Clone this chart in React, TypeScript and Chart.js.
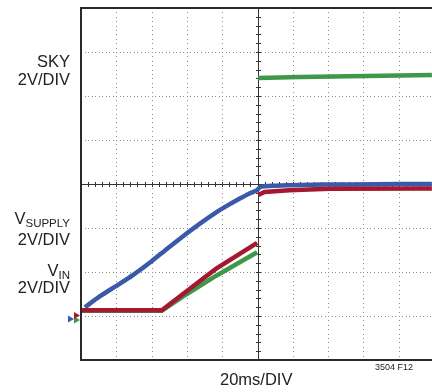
import React, { useEffect, useRef } from "react";
import { Chart, registerables } from "chart.js";

Chart.register(...registerables);

// Scope screen in divisions: 10 horizontal (20ms/DIV), 8 vertical
const X_MAX = 9.943; // right edge of the visible screen (in divisions)
const Y_MAX = 8;

// VSUPPLY (blue)
const supplyX = [0.11, 0.54, 0.99, 1.47, 2.01, 2.44, 3.0, 3.37, 3.82, 4.19, 4.5, 4.76, 4.99, 5.07, 5.5, 6.2, 7.62, 9.04, 9.94];
const supplyY = [1.2, 1.45, 1.68, 1.93, 2.25, 2.53, 2.88, 3.1, 3.35, 3.53, 3.67, 3.78, 3.86, 3.93, 3.96, 3.98, 3.99, 4.0, 4.0];

// VIN (red) — null marks the un-drawn jump of the captured trace
const vinX = [0, 2.29, 3.0, 3.82, 4.99, 5.0, 5.02, 5.2, 5.9, 7.05, 9.94];
const vinY = [1.13, 1.13, 1.57, 2.07, 2.66, null, 3.75, 3.82, 3.86, 3.89, 3.9];

// SKY (green)
const skyX = [0, 2.29, 3.0, 3.82, 4.99, 5.0, 5.02, 6.2, 7.62, 9.94];
const skyY = [1.12, 1.12, 1.5, 1.91, 2.45, null, 6.41, 6.43, 6.45, 6.48];

// ground markers (divisions) for each channel
const markerY = { supply: 0.93, vin: 1.01, sky: 0.91 };

const BLUE = "#3b59a9";
const RED = "#a3192f";
const GREEN = "#3e984a";

const FONT = "'Liberation Sans', Arial, Helvetica, sans-serif";

const toPts = (xs: number[], ys: (number | null)[]) => xs.map((x, i) => ({ x, y: ys[i] }));

const scopePlugin = {
  id: "scopeScreen",
  beforeDatasetsDraw(chart: any) {
    const { ctx, chartArea: a, scales } = chart;
    const x = scales.x;
    const y = scales.y;
    ctx.save();
    ctx.fillStyle = "#8c8c8c";
    for (let i = 1; i < 10; i++) {
      if (i === 5) continue;
      const px = Math.round(x.getPixelForValue(i));
      for (let k = 1; k < 80; k++) {
        const py = Math.round(y.getPixelForValue(k / 10));
        ctx.fillRect(px, py, 1, 1);
      }
    }
    for (let j = 1; j < 8; j++) {
      if (j === 4) continue;
      const py = Math.round(y.getPixelForValue(j));
      for (let k = 1; k < 100; k++) {
        const px = Math.round(x.getPixelForValue(k / 10));
        if (px >= a.right) break;
        ctx.fillRect(px, py, 1, 1);
      }
    }
    ctx.strokeStyle = "#333";
    ctx.lineWidth = 1;
    const cx = Math.round(x.getPixelForValue(5)) + 0.5;
    const cy = Math.round(y.getPixelForValue(4)) + 0.5;
    ctx.beginPath();
    ctx.moveTo(cx, a.top);
    ctx.lineTo(cx, a.bottom);
    ctx.moveTo(a.left, cy);
    ctx.lineTo(a.right, cy);
    for (let k = 1; k < 50; k++) {
      const px = Math.round(x.getPixelForValue(k / 5)) + 0.5;
      if (px > a.right) break;
      ctx.moveTo(px, cy - 2.5);
      ctx.lineTo(px, cy + 2.5);
    }
    for (let k = 1; k < 40; k++) {
      const py = Math.round(y.getPixelForValue(k / 5)) + 0.5;
      ctx.moveTo(cx - 2.5, py);
      ctx.lineTo(cx + 2.5, py);
    }
    ctx.stroke();
    ctx.restore();
  },
  afterDatasetsDraw(chart: any) {
    const { ctx, chartArea: a, scales } = chart;
    const y = scales.y;
    ctx.save();
    ctx.strokeStyle = "#2a2a2a";
    ctx.lineWidth = 2;
    ctx.beginPath();
    ctx.moveTo(a.right + 4, a.top);
    ctx.lineTo(a.left, a.top);
    ctx.lineTo(a.left, a.bottom);
    ctx.lineTo(a.right + 4, a.bottom);
    ctx.stroke();
    const tri = (tipX: number, v: number, color: string) => {
      const py = y.getPixelForValue(v);
      ctx.fillStyle = color;
      ctx.beginPath();
      ctx.moveTo(tipX, py);
      ctx.lineTo(tipX - 6, py - 3.5);
      ctx.lineTo(tipX - 6, py + 3.5);
      ctx.closePath();
      ctx.fill();
    };
    tri(a.left - 7, markerY.supply, BLUE);
    tri(a.left - 1, markerY.sky, GREEN);
    tri(a.left - 1, markerY.vin, RED);
    ctx.restore();
  },
};

export default function App() {
  const ref = useRef<HTMLCanvasElement | null>(null);
  useEffect(() => {
    if (!ref.current) return;
    // Chart.js paints the first dataset on top, so VIN comes first
    const chart = new Chart(ref.current, {
      type: "line",
      data: {
        datasets: [
          { label: "VIN", data: toPts(vinX, vinY), borderColor: RED, borderWidth: 4.5, pointRadius: 0, tension: 0, spanGaps: false },
          { label: "VSUPPLY", data: toPts(supplyX, supplyY), borderColor: BLUE, borderWidth: 4.5, pointRadius: 0, tension: 0.25 },
          { label: "SKY", data: toPts(skyX, skyY), borderColor: GREEN, borderWidth: 4.5, pointRadius: 0, tension: 0, spanGaps: false },
        ],
      },
      options: {
        animation: false,
        responsive: false,
        devicePixelRatio: 1,
        layout: { padding: { left: 81, top: 8, right: 0, bottom: 32 } },
        plugins: { legend: { display: false }, tooltip: { enabled: false } },
        scales: {
          x: { type: "linear", min: 0, max: X_MAX, display: false },
          y: { type: "linear", min: 0, max: Y_MAX, display: false },
        },
      },
      plugins: [scopePlugin],
    } as any);
    return () => chart.destroy();
  }, []);

  const lbl: React.CSSProperties = {
    position: "absolute",
    right: 362,
    fontFamily: FONT,
    fontSize: 16.5,
    lineHeight: "17px",
    color: "#222",
    whiteSpace: "nowrap",
    textAlign: "right",
  };
  const sub: React.CSSProperties = { fontSize: 11.5, position: "relative", top: 3 };

  return (
    <div style={{ position: "fixed", left: 0, top: 0, width: 432, height: 392, background: "#fff" }}>
      <canvas ref={ref} width={432} height={392} style={{ position: "absolute", left: 0, top: 0 }} />
      <div style={{ ...lbl, top: 52.5 }}>SKY</div>
      <div style={{ ...lbl, top: 70.5 }}>2V/DIV</div>
      <div style={{ ...lbl, top: 209.5 }}>V<span style={sub}>SUPPLY</span></div>
      <div style={{ ...lbl, top: 230.5 }}>2V/DIV</div>
      <div style={{ ...lbl, top: 261.5 }}>V<span style={sub}>IN</span></div>
      <div style={{ ...lbl, top: 279 }}>2V/DIV</div>
      <div style={{ position: "absolute", left: 220, top: 369.5, fontFamily: FONT, fontSize: 16.5, lineHeight: "18px", color: "#222" }}>20ms/DIV</div>
      <div style={{ position: "absolute", right: 19, top: 362, fontFamily: FONT, fontSize: 9, lineHeight: "10px", color: "#222" }}>3504 F12</div>
    </div>
  );
}
